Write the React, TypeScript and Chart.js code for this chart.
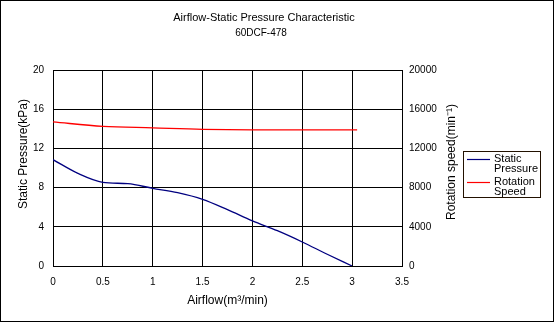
import React, { useEffect, useRef } from 'react';
import { Chart, registerables } from 'chart.js';
Chart.register(...registerables);

const chartTitle = 'Airflow-Static Pressure Characteristic';
const chartSubtitle = '60DCF-478';
const xAxisTitle = 'Airflow(m\u00B3/min)';
const leftAxisTitle = 'Static Pressure(kPa)';
const rightAxisTitle = 'Rotation speed(min\u207B\u00B9)';

const pressureAirflow = [0, 0.25, 0.5, 0.75, 1.0, 1.25, 1.5, 1.75, 2.0, 2.25, 2.5, 2.75, 3.0];
const staticPressure = [10.85, 9.45, 8.54, 8.4, 7.93, 7.48, 6.8, 5.75, 4.6, 3.6, 2.45, 1.2, 0];

const speedAirflow = [0, 0.5, 1.0, 1.5, 2.0, 2.5, 3.05];
const rotationSpeed = [14700, 14250, 14100, 13950, 13900, 13900, 13900];

const legendLabels = [['Static', 'Pressure'], ['Rotation', 'Speed']];
const seriesColors = ['#000080', '#ff0000'];

const FONT = '"Liberation Sans", Arial, sans-serif';

export default function App() {
  const ref = useRef<HTMLCanvasElement>(null);
  useEffect(() => {
    if (!ref.current) return;
    const decor = {
      id: 'decor',
      afterDraw(chart: any) {
        const ctx = chart.ctx;
        ctx.save();
        ctx.strokeStyle = '#000';
        ctx.lineWidth = 1;
        ctx.strokeRect(0.5, 0.5, 553, 321);
        ctx.fillStyle = '#000';
        ctx.textAlign = 'center';
        ctx.textBaseline = 'middle';
        // chart titles
        ctx.font = `11px ${FONT}`;
        ctx.fillText(chartTitle, 264, 17.5);
        ctx.font = `10px ${FONT}`;
        ctx.fillText(chartSubtitle, 261, 33);
        // axis titles
        ctx.font = `12px ${FONT}`;
        ctx.save();
        ctx.translate(24, 154);
        ctx.rotate(-Math.PI / 2);
        ctx.fillText(leftAxisTitle, 0, 0);
        ctx.restore();
        ctx.save();
        ctx.translate(452, 162);
        ctx.rotate(-Math.PI / 2);
        ctx.fillText(rightAxisTitle, 0, 0);
        ctx.restore();
        // legend
        ctx.strokeStyle = '#221100';
        ctx.strokeRect(463.5, 151.5, 77, 46);
        ctx.font = `11px ${FONT}`;
        ctx.textAlign = 'left';
        const ys = [159, 182];
        legendLabels.forEach((lines, i) => {
          ctx.strokeStyle = seriesColors[i];
          ctx.lineWidth = 1.2;
          ctx.beginPath();
          ctx.moveTo(467, ys[i] + 0.5);
          ctx.lineTo(490, ys[i] + 0.5);
          ctx.stroke();
          lines.forEach((t, j) => ctx.fillText(t, 494, ys[i] + j * 10));
        });
        ctx.restore();
      },
    };
    const chart = new Chart(ref.current, {
      type: 'line',
      data: {
        datasets: [
          {
            label: 'Static Pressure',
            data: pressureAirflow.map((x, i) => ({ x, y: staticPressure[i] })),
            borderColor: seriesColors[0],
            borderWidth: 1.3,
            pointRadius: 0,
            cubicInterpolationMode: 'monotone',
            yAxisID: 'y',
          },
          {
            label: 'Rotation Speed',
            data: speedAirflow.map((x, i) => ({ x, y: rotationSpeed[i] })),
            borderColor: seriesColors[1],
            borderWidth: 1.3,
            pointRadius: 0,
            cubicInterpolationMode: 'monotone',
            yAxisID: 'y1',
          },
        ],
      },
      options: {
        animation: false,
        responsive: false,
        devicePixelRatio: 1,
        layout: { padding: { left: 0, right: 93, top: 70, bottom: 0 } },
        plugins: {
          legend: { display: false },
          tooltip: { enabled: false },
          title: { display: false },
        },
        scales: {
          x: {
            type: 'linear',
            min: 0,
            max: 3.5,
            ticks: {
              stepSize: 0.5,
              color: '#000',
              font: { family: FONT, size: 10 },
              padding: 10.5,
              maxRotation: 0,
              callback: (v: any) => String(v),
            },
            grid: { color: '#000', drawTicks: false },
            border: { color: '#000' },
            title: {
              display: true,
              text: xAxisTitle,
              color: '#000',
              font: { family: FONT, size: 12 },
              padding: { top: 0, bottom: 14.7 },
            },
            afterFit: (s: any) => { s.height = 57; },
          },
          y: {
            position: 'left',
            min: 0,
            max: 20,
            ticks: {
              stepSize: 2,
              color: '#000',
              font: { family: FONT, size: 10 },
              padding: 9,
              callback: (v: any) => (v % 4 === 0 ? String(v) : null),
            },
            grid: { color: '#000', drawTicks: false },
            border: { color: '#000' },
            afterFit: (s: any) => { s.width = 53; },
          },
          y1: {
            position: 'right',
            min: 0,
            max: 20000,
            ticks: {
              stepSize: 4000,
              color: '#000',
              font: { family: FONT, size: 10 },
              padding: 7,
              callback: (v: any) => String(v),
            },
            grid: { display: false, drawTicks: false },
            border: { color: '#000' },
            afterFit: (s: any) => { s.width = 60; },
          },
        },
      },
      plugins: [decor],
    } as any);
    return () => chart.destroy();
  }, []);
  return (
    <div style={{ position: 'absolute', left: 0, top: 0, width: 555, height: 323, background: '#fff' }}>
      <canvas ref={ref} width={555} height={323} />
    </div>
  );
}
